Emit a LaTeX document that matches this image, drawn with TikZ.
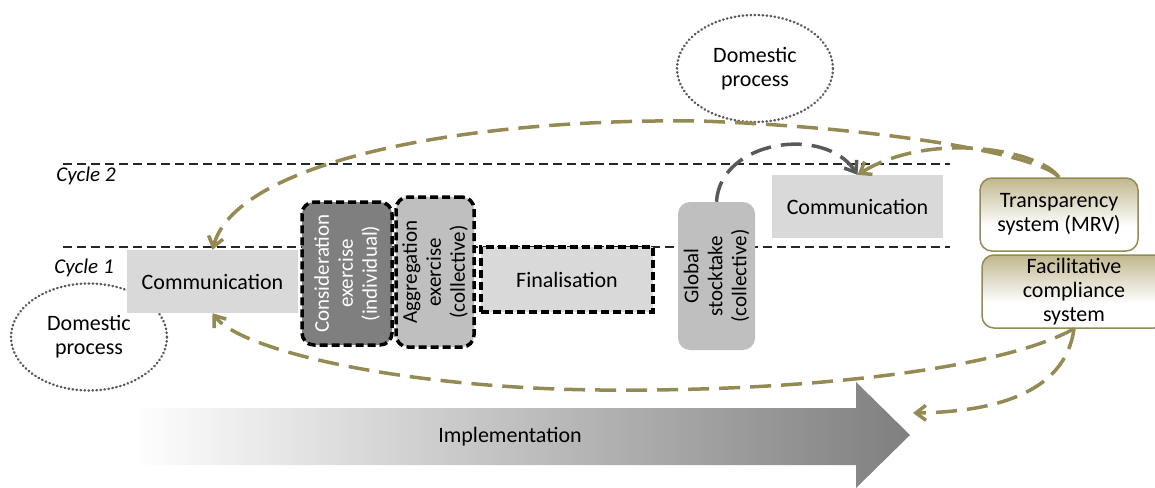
\documentclass[tikz,border=0pt]{standalone}
\usepackage{fontspec}
\setmainfont{Carlito}
\usetikzlibrary{arrows.meta,shapes.geometric}
\definecolor{oliveA}{HTML}{948A54}
\definecolor{olivetop}{HTML}{C0B78E}
\definecolor{lgray}{HTML}{D9D9D9}
\definecolor{mgray}{HTML}{BFBFBF}
\definecolor{dgray}{HTML}{7F7F7F}
\definecolor{arcgray}{HTML}{595959}
\definecolor{linegray}{HTML}{262626}
\pgfdeclareverticalshading{tanshade}{100bp}{color(0bp)=(white); color(25bp)=(white); color(42bp)=(white); color(75bp)=(olivetop); color(100bp)=(olivetop)}
\begin{document}
\begin{tikzpicture}[x=1pt,y=-1pt,
  every node/.style={font=\fontsize{22}{24}\selectfont, inner sep=0pt},
  commbox/.style={fill=lgray, minimum width=171pt, minimum height=63pt},
  dashbox/.style={draw=black, line width=3.5pt, dash pattern=on 8pt off 4pt, rounded corners=12pt},
  finbox/.style={fill=lgray, draw=black, line width=3.5pt, dash pattern=on 8pt off 4pt},
  cycline/.style={draw=linegray, line width=2pt, dash pattern=on 9pt off 5pt},
  cyclab/.style={font=\itshape\fontsize{21}{24}\selectfont},
  dom/.style={ellipse, draw=arcgray, line width=2.5pt, line cap=round, dash pattern=on 0.5pt off 3.5pt, align=center, minimum width=156pt, minimum height=107pt},
  vlabel/.style={rotate=90, align=center, font=\fontsize{21}{24}\selectfont},
  tanbox/.style={draw=oliveA, line width=1.5pt, rounded corners=12pt, shading=tanshade, align=center, minimum height=73pt},
  tip/.style={-{Straight Barb[length=10pt,width=15pt]}},
  oarrow/.style={draw=oliveA, line width=3.5pt, dash pattern=on 21pt off 10pt, tip},
  garrow/.style={draw=arcgray, line width=3.5pt, dash pattern=on 21pt off 10pt, tip}
]
\useasboundingbox (0,0) rectangle (1155,487);

% implementation arrow
\shade[left color=white, right color=dgray] (130,408) -- (856,408) -- (856,382) -- (910,435) -- (856,488) -- (856,465) -- (130,465) -- cycle;
\node (impl) at (510,437) {Implementation};
\coordinate (implend) at (913,413);

% cycle lines
\draw[cycline] (63,164) -- (950,164);
\draw[cycline] (63,247) -- (950,247);
\node[cyclab] (c2) at (86,176) {Cycle 2};
\node[cyclab] (c1) at (84,268) {Cycle 1};

% domestic processes
\node[dom] (dom1) at (755,68.5) {Domestic\\process};
\node[dom] (dom2) at (89,337) {Domestic\\process};

% boxes
\node[commbox] (comm1) at (212.5,281.5) {Communication};
\node[commbox] (comm2) at (857.5,206.5) {Communication};

\node[dashbox, fill=dgray, minimum width=90pt, minimum height=143pt] (cons) at (347,273.5) {};
\node[vlabel, text=white] (consl) at (cons) {Consideration\\exercise\\(individual)};

\node[dashbox, fill=mgray, minimum width=78pt, minimum height=150pt] (agg) at (435,272) {};
\node[vlabel] (aggl) at (agg) {Aggregation\\exercise\\(collective)};

\node[finbox, minimum width=172pt, minimum height=65pt] (fin) at (567,279.5) {Finalisation};

\node[fill=mgray, rounded corners=12pt, minimum width=77pt, minimum height=148pt] (gs) at (716.5,276) {};
\node[vlabel] (gsl) at (gs) {Global\\stocktake\\(collective)};

\node[tanbox, minimum width=158pt] (trans) at (1059,214.5) {Transparency\\system (MRV)};
\node[tanbox, minimum width=184pt] (fac) at (1074,291.5) {Facilitative\\compliance\\system};

% connectors
\draw[oarrow] (trans.north) .. controls (1040,155) and (890,128) .. (700,121) .. controls (450,118) and (235,165) .. (comm1.north);
\draw[oarrow] (trans.north) .. controls (1040,150) and (930,130) .. (comm2.north);
\draw[garrow] (gs.north) .. controls (720,140) and (825,125) .. (comm2.north);
\draw[oarrow] (fac.south) .. controls (1000,370) and (800,392) .. (600,390) .. controls (400,388) and (240,350) .. (comm1.south);
\draw[oarrow] (fac.south) .. controls (1065,395) and (990,412) .. (implend);
\end{tikzpicture}
\end{document}
